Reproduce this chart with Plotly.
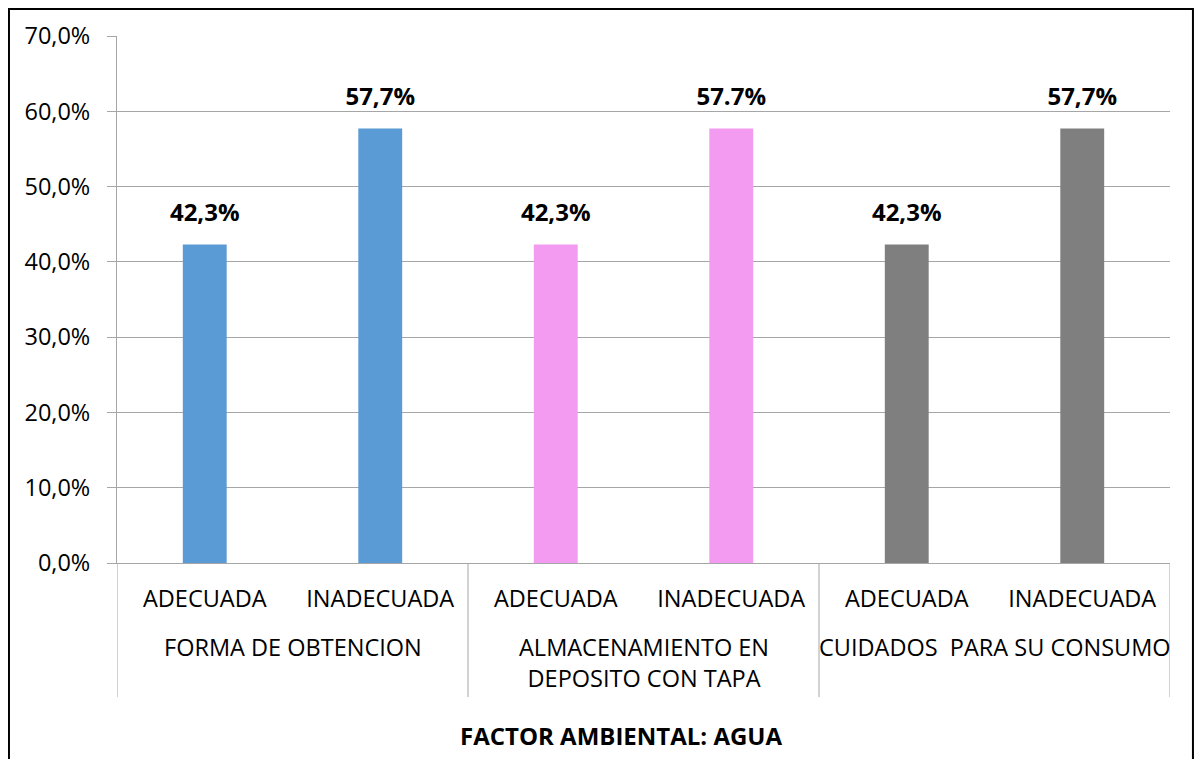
import plotly.graph_objects as go

grupos = ["FORMA DE OBTENCION", "ALMACENAMIENTO EN<br>DEPOSITO CON TAPA", "CUIDADOS  PARA SU CONSUMO"]
opciones = ["ADECUADA", "INADECUADA", "ADECUADA", "INADECUADA", "ADECUADA", "INADECUADA"]
valores = [0.423, 0.577, 0.423, 0.577, 0.423, 0.577]
etiquetas = ["42,3%", "57,7%", "42,3%", "57.7%", "42,3%", "57,7%"]
colores = ["#5B9BD5", "#5B9BD5", "#F39BF1", "#F39BF1", "#7F7F7F", "#7F7F7F"]

FONT = "Open Sans, sans-serif"
GRID = "#A6A6A6"

idx = list(range(len(opciones)))
por_grupo = len(opciones) // len(grupos)

fig = go.Figure()
fig.add_trace(go.Bar(
    x=idx,
    y=valores,
    marker=dict(color=colores, line=dict(width=0)),
    width=0.25,
    hoverinfo="y",
))
# etiquetas de datos, separadas de la barra con un marcador invisible
fig.add_trace(go.Scatter(
    x=idx,
    y=valores,
    mode="markers+text",
    text=etiquetas,
    textposition="top center",
    textfont=dict(family=FONT, size=24, color="black", weight="bold"),
    marker=dict(size=26, color="rgba(0,0,0,0)"),
    hoverinfo="skip",
    cliponaxis=False,
))

anots = []
shapes = []
for g, nombre in enumerate(grupos):
    centro = g * por_grupo + (por_grupo - 1) / 2
    anots.append(dict(
        text=nombre, xref="x", yref="paper", x=centro, y=-0.125,
        yanchor="top", showarrow=False, align="center",
        font=dict(family=FONT, size=23.5, color="black"),
    ))
# separadores entre grupos, bajo el eje
for b in range(len(grupos) + 1):
    xb = b * por_grupo - 0.5
    shapes.append(dict(
        type="line", xref="x", yref="paper", x0=xb, x1=xb, y0=0, y1=-0.2543,
        line=dict(color=GRID, width=1),
    ))

anots.append(dict(
    text="<b>FACTOR AMBIENTAL: AGUA</b>",
    xref="paper", yref="paper", x=0.479, y=-0.362,
    showarrow=False, font=dict(family=FONT, size=24, color="black"),
))
# borde del grafico
shapes.append(dict(
    type="rect", xref="paper", yref="paper",
    x0=-0.1026, x1=1.0218, y0=-0.40, y1=1.0512,
    line=dict(color="black", width=2), layer="above",
))

fig.update_layout(
    width=1186, height=751,
    margin=dict(l=109, r=24, t=28, b=196),
    plot_bgcolor="white", paper_bgcolor="white",
    showlegend=False,
    separators=",.",
    font=dict(family=FONT, size=23.5, color="black"),
    annotations=anots,
    shapes=shapes,
)
fig.update_xaxes(
    range=[-0.5, len(opciones) - 0.5],
    tickvals=idx, ticktext=opciones,
    showline=True, linecolor=GRID, linewidth=1,
    ticks="", showgrid=False, zeroline=False,
    ticklabelstandoff=15,
    tickfont=dict(family=FONT, size=23.5, color="black"),
)
fig.update_yaxes(
    range=[0, 0.7], dtick=0.1, tickformat=".1%",
    showgrid=True, gridcolor=GRID, gridwidth=1,
    showline=True, linecolor=GRID, linewidth=1,
    ticks="outside", ticklen=9, tickcolor=GRID,
    zeroline=False, ticklabelstandoff=12,
    tickfont=dict(family=FONT, size=23.5, color="black"),
)

fig.write_html("out.html")
